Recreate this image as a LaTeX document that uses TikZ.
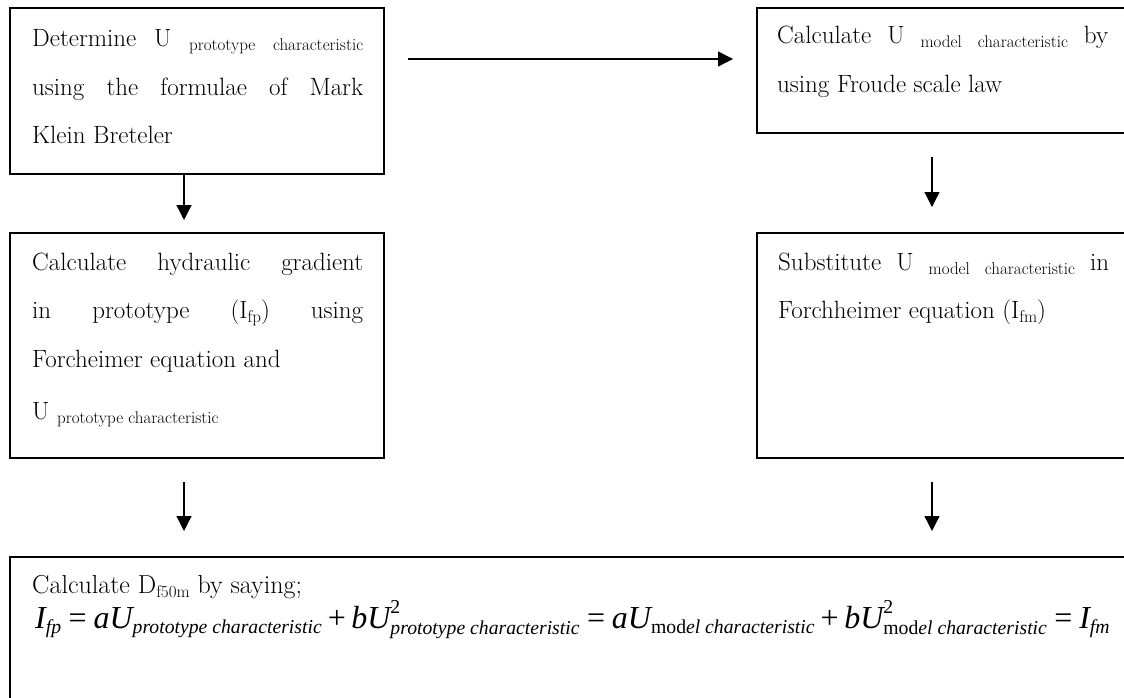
\documentclass[tikz,border=0pt]{standalone}
\usepackage{amsmath}
\usepackage{fontspec}
\newfontfamily\eqfont{Liberation Serif}
\usetikzlibrary{arrows.meta}
\DeclareMathSizes{32}{32}{19.7}{14}

\newcommand{\lowsub}[1]{\raisebox{-4pt}{\fontsize{17}{17}\selectfont #1}}

\tikzset{
  stepbox/.style={rectangle, draw=black, line width=1.8pt, minimum width=374pt, inner sep=0pt, outer sep=0pt, anchor=north west},
  steptext/.style={text width=331pt, align=justify, inner sep=0pt, anchor=base west, font=\fontsize{25}{48.5}\selectfont},
  flow/.style={-{Triangle[length=15pt,width=15pt]}, line width=1.3pt},
}

\begin{document}
\begin{tikzpicture}[x=1pt, y=-1pt]
\useasboundingbox (0,0) rectangle (1124,698);
\clip (0,0) rectangle (1124,698);

%Boxes
\node (proto) [stepbox, minimum height=166pt] at (10,8) {};
\node (model) [stepbox, minimum width=371pt, minimum height=125pt] at (757,8) {};
\node (gradp) [stepbox, minimum height=225pt] at (10,233) {};
\node (gradm) [stepbox, minimum width=371pt, minimum height=225pt] at (757,233) {};
\node (dfifty) [stepbox, minimum width=1118pt, minimum height=200pt] at (10,557) {};

%Texts
\node (protoT) [steptext] at ([shift={(22,39)}]proto.north west)
  {Determine U \lowsub{prototype} \lowsub{characteristic}\linebreak using the formulae of Mark\linebreak Klein Breteler};
\node (modelT) [steptext] at ([shift={(20,36)}]model.north west)
  {Calculate U \lowsub{model} \lowsub{characteristic} by\linebreak using Froude scale law};
\node (gradpT) [steptext] at ([shift={(22,37)}]gradp.north west)
  {Calculate hydraulic gradient\linebreak in prototype (I\lowsub{fp}) using\linebreak Forcheimer equation and\\[4pt] U \lowsub{prototype characteristic}};
\node (gradmT) [steptext] at ([shift={(21,37)}]gradm.north west)
  {Substitute U \lowsub{model} \lowsub{characteristic} in\linebreak Forchheimer equation (I\lowsub{fm})};
\node (dfiftyT) [anchor=base west, inner sep=0pt, font=\fontsize{26}{30}\selectfont] at ([shift={(22,36)}]dfifty.north west)
  {Calculate D\lowsub{f50m} by saying;};
\node (eqn) [anchor=base west, inner sep=0pt, font=\eqfont\fontsize{32}{38}\selectfont] at ([shift={(25,71)}]dfifty.north west)
  {$\textit{I}_{\textit{fp}}
   \mathrel{\text{=}} \textit{aU}_{\textit{prototype characteristic}}
   \mathbin{\text{+}} \textit{bU}^{\text{2}}_{\textit{prototype characteristic}}
   \mathrel{\text{=}} \textit{aU}_{\text{mod}\textit{el characteristic}}
   \mathbin{\text{+}} \textit{bU}^{\text{2}}_{\text{mod}\textit{el characteristic}}
   \mathrel{\text{=}} \textit{I}_{\textit{fm}}$};

%Arrows
\draw [flow, shorten <=24pt, shorten >=24pt] ([yshift=-51pt]proto.north east) -- ([yshift=-51pt]model.north west);
\draw [flow, shorten >=13pt] ([xshift=174pt]proto.south west) -- ([xshift=174pt]gradp.north west);
\draw [flow, shorten <=24pt, shorten >=26pt] ([xshift=175pt]model.south west) -- ([xshift=175pt]gradm.north west);
\draw [flow, shorten <=24pt, shorten >=26pt] ([xshift=174pt]gradp.south west) -- ([xshift=174pt]gradp.south west |- dfifty.north);
\draw [flow, shorten <=24pt, shorten >=26pt] ([xshift=175pt]gradm.south west) -- ([xshift=175pt]gradm.south west |- dfifty.north);

\end{tikzpicture}
\end{document}
